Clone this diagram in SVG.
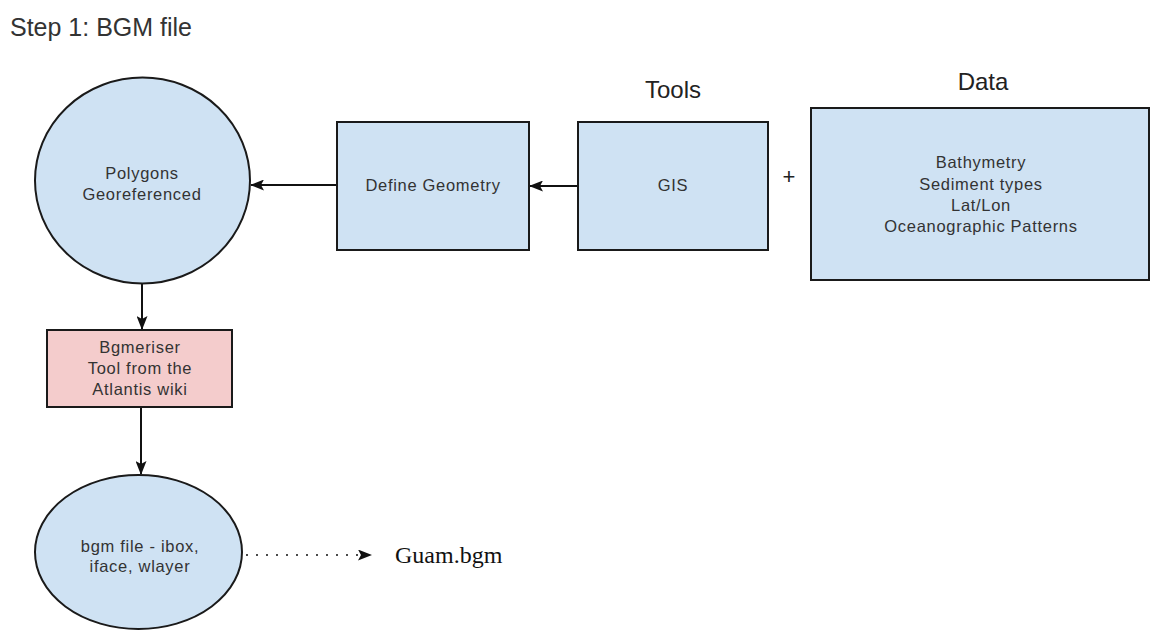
<svg xmlns="http://www.w3.org/2000/svg" width="1152" height="631" viewBox="0 0 1152 631">
  <defs>
    <style>
      .node { fill: #cfe2f3; stroke: #1a1a1a; stroke-width: 2; }
      .pink { fill: #f4cccc; stroke: #1a1a1a; stroke-width: 2; }
      .lbl { font-family: "Liberation Sans", Arial, sans-serif; font-size: 16.5px; letter-spacing: 0.7px; fill: #333; text-anchor: middle; }
      .head { font-family: "Liberation Sans", Arial, sans-serif; font-size: 24px; fill: #222; text-anchor: middle; }
      .conn { stroke: #111; stroke-width: 2; fill: none; }
      .dot { stroke: #111; stroke-width: 1.6; fill: none; stroke-dasharray: 2 8; }
    </style>
    <marker id="ah" markerWidth="14" markerHeight="11" refX="13" refY="5.5" orient="auto" markerUnits="userSpaceOnUse">
      <path d="M0,0 L14,5.5 L0,11 L3,5.5 Z" fill="#111"/>
    </marker>
  </defs>

  <text x="10" y="36" style="font-family:'Liberation Sans',Arial,sans-serif;font-size:25px;fill:#333">Step 1: BGM file</text>
  <text x="673" y="98" class="head">Tools</text>
  <text x="983" y="90" class="head">Data</text>
  <text x="789" y="184" style="font-family:'Liberation Sans',Arial,sans-serif;font-size:22px;fill:#222;text-anchor:middle">+</text>

  <g id="connectors">
    <line x1="337" y1="185" x2="251" y2="185" class="conn" marker-end="url(#ah)"/>
    <line x1="578" y1="186" x2="530" y2="186" class="conn" marker-end="url(#ah)"/>
    <line x1="142" y1="283" x2="142" y2="329" class="conn" marker-end="url(#ah)"/>
    <line x1="141" y1="407" x2="141" y2="474" class="conn" marker-end="url(#ah)"/>
    <line x1="246" y1="555" x2="371" y2="555" class="dot" marker-end="url(#ah)"/>
  </g>

  <g id="polygons">
    <ellipse cx="142.5" cy="180.5" rx="107.5" ry="103" class="node"/>
    <text x="142" y="179" class="lbl">Polygons</text>
    <text x="142" y="200" class="lbl">Georeferenced</text>
  </g>

  <g id="define-geometry">
    <rect x="337" y="122" width="192" height="128" class="node"/>
    <text x="433" y="191" class="lbl">Define Geometry</text>
  </g>

  <g id="gis">
    <rect x="578" y="122" width="190" height="128" class="node"/>
    <text x="673" y="191" class="lbl">GIS</text>
  </g>

  <g id="data">
    <rect x="811" y="108" width="338" height="172" class="node"/>
    <text x="981" y="168" class="lbl">Bathymetry</text>
    <text x="981" y="190" class="lbl">Sediment types</text>
    <text x="981" y="211" class="lbl">Lat/Lon</text>
    <text x="981" y="232" class="lbl">Oceanographic Patterns</text>
  </g>

  <g id="bgmeriser">
    <rect x="47" y="330" width="185" height="77" class="pink"/>
    <text x="140" y="353" class="lbl">Bgmeriser</text>
    <text x="140" y="374" class="lbl">Tool from the</text>
    <text x="140" y="395" class="lbl">Atlantis wiki</text>
  </g>

  <g id="bgm-file">
    <ellipse cx="138.5" cy="552" rx="103.5" ry="77" class="node"/>
    <text x="140" y="552" class="lbl">bgm file - ibox,</text>
    <text x="140" y="572" class="lbl">iface, wlayer</text>
  </g>

  <g id="guam">
    <text x="395" y="563" style="font-family:'Liberation Serif','Times New Roman',serif;font-size:24px;fill:#111">Guam.bgm</text>
  </g>
</svg>
